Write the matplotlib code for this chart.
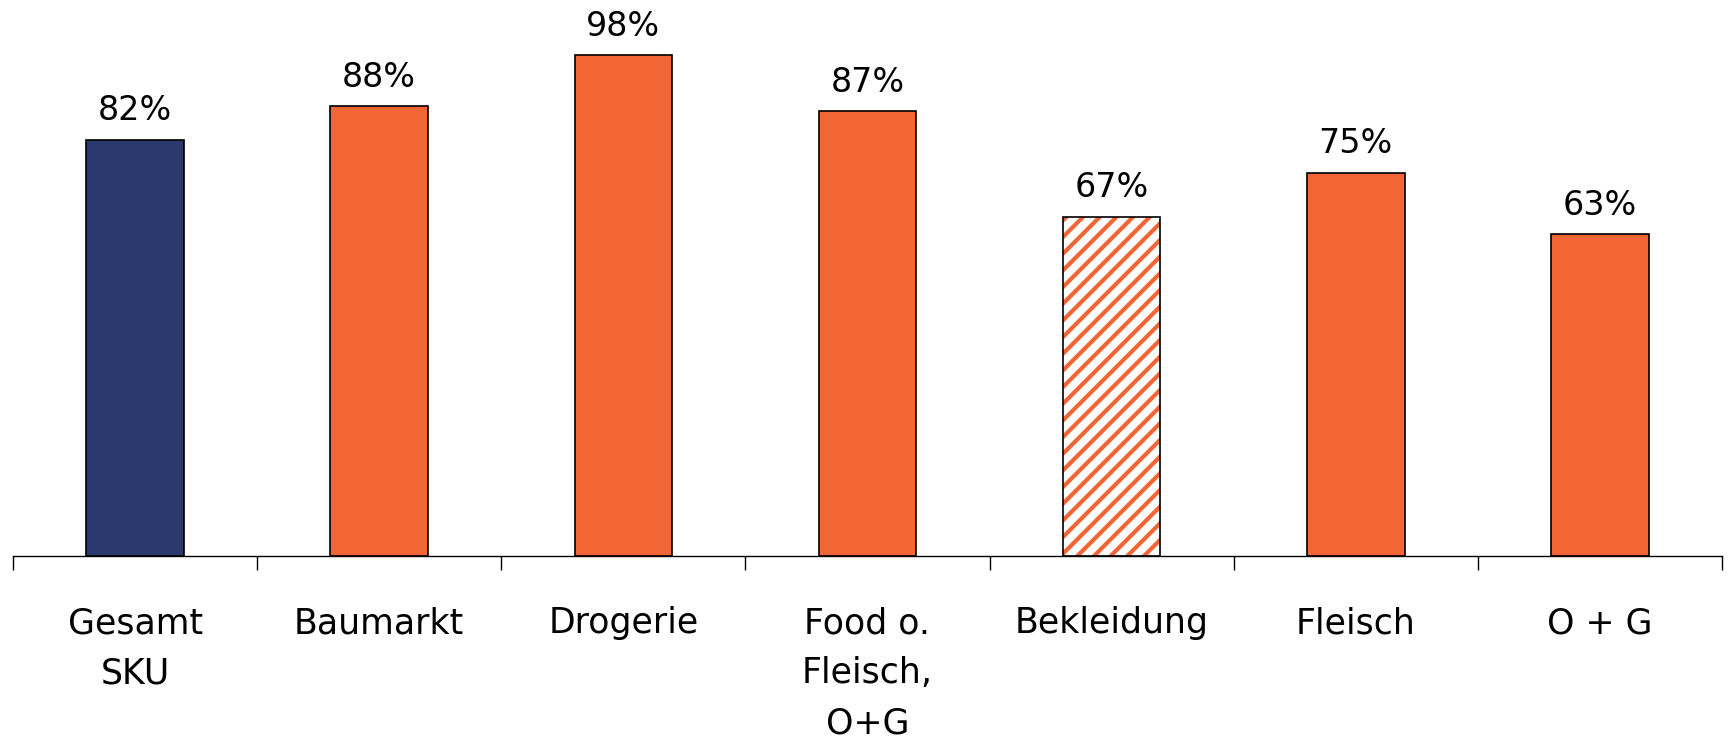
import numpy as np
import matplotlib.pyplot as plt

categories = ['Gesamt\nSKU', 'Baumarkt', 'Drogerie', 'Food o.\nFleisch,\nO+G',
              'Bekleidung', 'Fleisch', 'O + G']
values = [81.5, 88, 98, 87, 66.4, 75, 63]
labels = ['82%', '88%', '98%', '87%', '67%', '75%', '63%']

NAVY = '#2B3A6E'
ORANGE = '#F26535'

plt.rcParams['font.family'] = ['DejaVu Sans']
plt.rcParams['hatch.linewidth'] = 3.0

fig = plt.figure(figsize=(17.28, 7.38), dpi=100)
ax = fig.add_axes([13 / 1728, 182 / 738, 1709 / 1728, 556 / 738])

x = np.arange(len(categories))
width = 0.4
colors = [NAVY] + [ORANGE] * 6

for i, (xi, v) in enumerate(zip(x, values)):
    if categories[i] == 'Bekleidung':
        # hatched bar: orange stripes on white, black outline drawn on top
        ax.bar(xi, v, width, color='white', edgecolor=ORANGE, hatch='//', linewidth=0)
        ax.bar(xi, v, width, fill=False, edgecolor='black', linewidth=1.2)
    else:
        ax.bar(xi, v, width, color=colors[i], edgecolor='black', linewidth=1.2)
    ax.annotate(labels[i], (xi, v), xytext=(0, 9), textcoords='offset points',
                ha='center', va='bottom', fontsize=24)

ax.set_xlim(-0.5, len(categories) - 0.5)
ax.set_ylim(0, 108.8)

for s in ['top', 'right', 'left']:
    ax.spines[s].set_visible(False)
ax.spines['bottom'].set_linewidth(1.0)
ax.set_yticks([])

ax.set_xticks(x)
ax.set_xticklabels(categories, fontsize=25, linespacing=1.6, va='top')
ax.tick_params(axis='x', which='major', length=0, pad=36)
ax.set_xticks(np.arange(len(categories) + 1) - 0.5, minor=True)
ax.tick_params(axis='x', which='minor', length=10, width=1.0, direction='out')

fig.savefig('out.png', dpi=100)
